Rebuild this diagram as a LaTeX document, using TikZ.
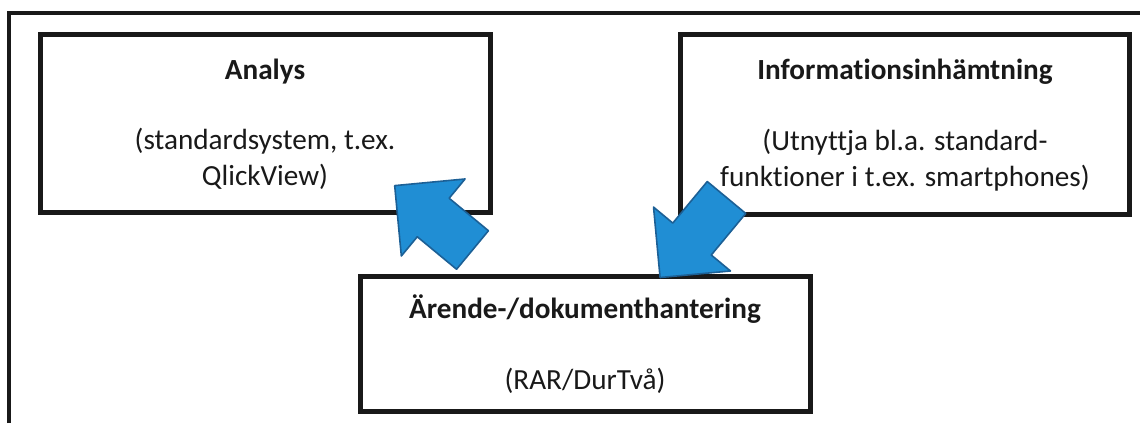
\documentclass[tikz,border=0pt]{standalone}
\usepackage{fontspec}
\setmainfont{Carlito}[Ligatures=NoCommon]
\usepackage{tikz}
\usetikzlibrary{calc}

\definecolor{arrowblue}{RGB}{32,142,212}
\definecolor{arrowedge}{RGB}{28,96,150}

\tikzset{
    frame/.style={line width=2pt, black!90},
    infobox/.style={draw=black!90, line width=2.5pt, fill=white, align=center,
        text=black!90, minimum width=225pt, minimum height=89pt, inner sep=0pt,
        font=\fontsize{14.6}{17.8}\selectfont},
    bluearrow/.style={fill=arrowblue, draw=arrowedge, line width=0.8pt, line join=round}
}

\begin{document}
\begin{tikzpicture}[x=0.5pt, y=0.5pt]
    \useasboundingbox (0,0) rectangle (1140,423);
    \draw[frame] (9,0) -- (9,410) -- (1140,410);

    \node[infobox] (analys) at (265,299)
        {\textbf{Analys}\\[17.6pt] (standardsystem, t.ex.\\ QlickView)};
    \node[infobox, minimum width=224.5pt, minimum height=90pt] (info) at (905,298)
        {\textbf{Informationsinhämtning}\\[17.6pt] (Utnyttja bl.a. standard-\\ funktioner i t.ex. smartphones)};
    \node[infobox, minimum height=67pt] (arende) at (585,79)
        {\textbf{Ärende-/dokumenthantering}\\[17.6pt] (RAR/DurTvå)};

    % block arrows: tail point and direction
    \coordinate (tailA) at ($(arende.north west)+(115,24.5)$);
    \coordinate (tailI) at ($(info.south west)+(48.5,20)$);
    \foreach \tail/\ang/\len in {tailA/140.4/101, tailI/230.3/104}
        \draw[bluearrow, shift={(\tail)}, rotate=\ang]
            (0,-25) -- (\len-50,-25) -- (\len-50,-50) -- (\len,0)
            -- (\len-50,50) -- (\len-50,25) -- (0,25) -- cycle;
\end{tikzpicture}
\end{document}
